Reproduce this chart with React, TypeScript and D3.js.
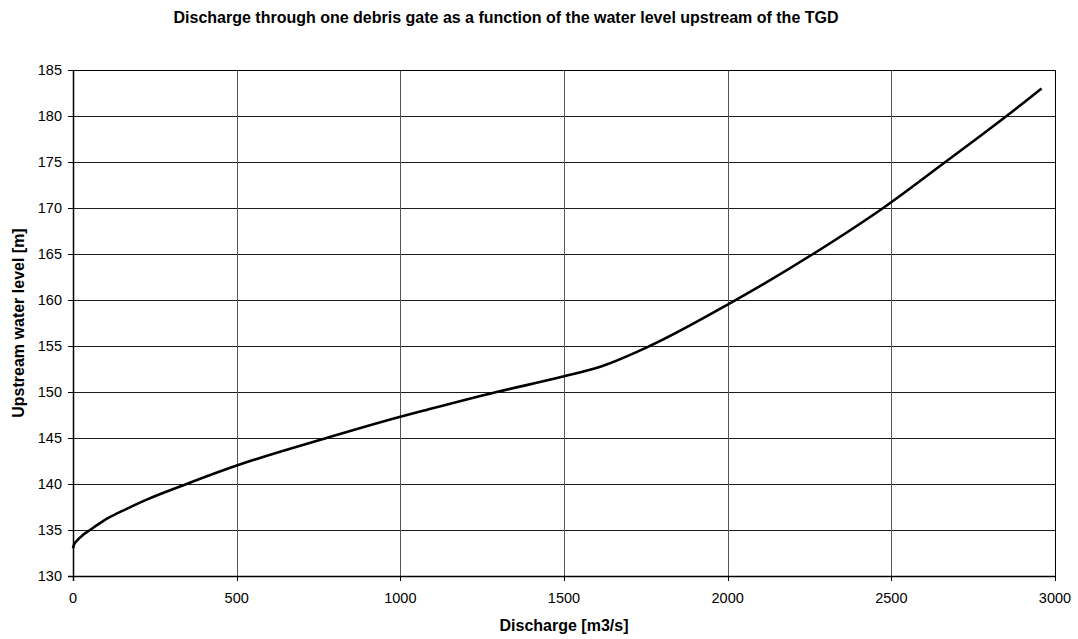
import React from "react";
import * as d3 from "d3";

// Rating curve of one debris gate: discharge (m3/s) vs upstream level (m)
const discharge = [0, 3, 11, 32, 52, 93, 164, 225, 347, 500, 775, 1000, 1080, 1294, 1500, 1615, 1762, 2000, 2261, 2475, 2665, 2852, 2959];
const waterLevel = [133.0, 133.4, 133.8, 134.5, 135.0, 136.0, 137.3, 138.3, 140.0, 142.0, 145.0, 147.3, 148.05, 150.0, 151.7, 152.8, 155.0, 159.5, 165.0, 170.0, 175.0, 180.0, 183.0];

const xTicks = [0, 500, 1000, 1500, 2000, 2500, 3000];
const yTicks = [130, 135, 140, 145, 150, 155, 160, 165, 170, 175, 180, 185];

const title = "Discharge through one debris gate as a function of the water level upstream of the TGD";
const xTitle = "Discharge [m3/s]";
const yTitle = "Upstream water level [m]";

const W = 1078;
const H = 639;
const left = 73;
const right = 1055;
const top = 70;
const bottom = 576;

export default function App() {
  const x = d3.scaleLinear().domain([0, 3000]).range([left, right]);
  const y = d3.scaleLinear().domain([130, 185]).range([bottom, top]);
  const pts = discharge.map((q, i) => [q, waterLevel[i]] as [number, number]);
  const line = d3
    .line<[number, number]>()
    .x((d) => x(d[0]))
    .y((d) => y(d[1]))
    .curve(d3.curveMonotoneX);

  const font = "'Liberation Sans', Arial, sans-serif";

  return (
    <svg
      width={W}
      height={H}
      style={{ position: "absolute", left: 0, top: 0, background: "#fff" }}
      fontFamily={font}
    >
      <rect x={0} y={0} width={W} height={H} fill="#fff" />
      <text x={506} y={23} textAnchor="middle" fontSize={16} fontWeight="bold" fill="#000">
        {title}
      </text>

      {/* horizontal grid */}
      {yTicks.map((t) => (
        <line key={"gy" + t} x1={left} x2={right} y1={Math.round(y(t)) + 0.5} y2={Math.round(y(t)) + 0.5} stroke="#1a1a1a" strokeWidth={1} />
      ))}
      {/* vertical grid */}
      {xTicks.map((t) => (
        <line key={"gx" + t} x1={Math.round(x(t)) + 0.5} x2={Math.round(x(t)) + 0.5} y1={top} y2={bottom} stroke="#555" strokeWidth={1} />
      ))}
      {/* frame */}
      <rect x={left + 0.5} y={top + 0.5} width={right - left} height={bottom - top} fill="none" stroke="#000" strokeWidth={1} />
      <line x1={left + 0.5} x2={left + 0.5} y1={top} y2={bottom + 5} stroke="#000" strokeWidth={1.5} />
      <line x1={left - 5} x2={right} y1={bottom + 0.5} y2={bottom + 0.5} stroke="#000" strokeWidth={1.5} />

      {/* y ticks and labels */}
      {yTicks.map((t) => (
        <g key={"ty" + t}>
          <line x1={left - 5} x2={left} y1={Math.round(y(t)) + 0.5} y2={Math.round(y(t)) + 0.5} stroke="#000" />
          <text x={62} y={y(t) + 5} textAnchor="end" fontSize={14.5} fill="#000">
            {t}
          </text>
        </g>
      ))}
      {/* x ticks and labels */}
      {xTicks.map((t) => (
        <g key={"tx" + t}>
          <line x1={Math.round(x(t)) + 0.5} x2={Math.round(x(t)) + 0.5} y1={bottom} y2={bottom + 5} stroke="#000" />
          <text x={x(t)} y={603} textAnchor="middle" fontSize={14.5} fill="#000">
            {t}
          </text>
        </g>
      ))}

      <path d={line(pts) ?? ""} fill="none" stroke="#000" strokeWidth={2.6} strokeLinejoin="round" />

      <text x={564} y={631} textAnchor="middle" fontSize={16} fontWeight="bold" fill="#000">
        {xTitle}
      </text>
      <text
        transform={`translate(24, ${(top + bottom) / 2}) rotate(-90)`}
        textAnchor="middle"
        fontSize={16}
        fontWeight="bold"
        fill="#000"
      >
        {yTitle}
      </text>
    </svg>
  );
}
